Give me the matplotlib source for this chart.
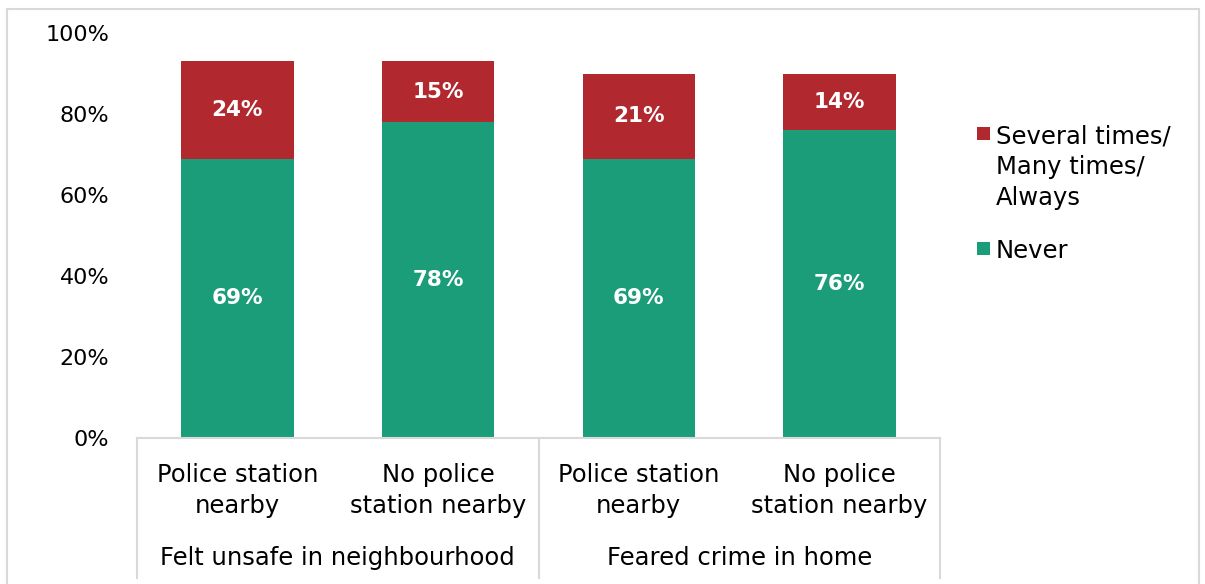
import matplotlib
matplotlib.use("Agg")
import matplotlib.pyplot as plt
from matplotlib.patches import Rectangle
import matplotlib.transforms as mtransforms

plt.rcParams['font.family'] = ['DejaVu Sans']

categories = ["Police station\nnearby", "No police\nstation nearby",
              "Police station\nnearby", "No police\nstation nearby"]
groups = ["Felt unsafe in neighbourhood", "Feared crime in home"]
never = [69, 78, 69, 76]
several = [24, 15, 21, 14]
series_names = ["Never", "Several times/\nMany times/\nAlways"]
yticks = [0, 20, 40, 60, 80, 100]

green = "#1C9D7A"
red = "#B1282E"
grey = "#D9D9D9"

W, H = 1205, 584
fig = plt.figure(figsize=(W / 100, H / 100), dpi=100)
ax = fig.add_axes([137 / W, 1 - 438 / H, (940 - 137) / W, (438 - 33) / H])

x = list(range(len(categories)))
b1 = ax.bar(x, never, width=0.56, color=green, label=series_names[0])
b2 = ax.bar(x, several, width=0.56, bottom=never, color=red, label=series_names[1])

for bars, vals, base in ((b1, never, [0] * 4), (b2, several, never)):
    for rect, v, b in zip(bars, vals, base):
        ax.text(rect.get_x() + rect.get_width() / 2, b + v / 2, f"{v}%",
                ha="center", va="center", color="white", fontsize=15.5,
                fontweight="bold")

ax.set_xlim(-0.5, 3.5)
ax.set_ylim(0, 100)
ax.set_yticks(yticks)
ax.set_yticklabels([f"{t}%" for t in yticks], fontsize=16)
ax.tick_params(axis="y", length=0, pad=20)
ax.set_xticks([])
for s in ("left", "right", "top"):
    ax.spines[s].set_visible(False)
ax.spines["bottom"].set_color(grey)
ax.spines["bottom"].set_linewidth(1.5)

# Two-level category labels with separators
trans = mtransforms.blended_transform_factory(ax.transData, ax.transAxes)
for xi, lab in zip(x, categories):
    ax.text(xi, -0.13, lab, transform=trans, ha="center", va="center",
            fontsize=17.5, linespacing=1.35)
for gi, g in enumerate(groups):
    ax.text(gi * 2 + 0.5, -0.296, g, transform=trans, ha="center",
            va="center", fontsize=17.5)
for sx in (-0.5, 1.5, 3.5):
    ax.plot([sx, sx], [0, -0.345], transform=trans, color=grey, lw=1.5,
            clip_on=False)

# Legend, red series first; marker aligned with first text line
legend_items = [(series_names[1], red, 133), (series_names[0], green, 248)]
for name, col, ypx in legend_items:
    fig.add_artist(Rectangle((977 / W, 1 - (ypx + 7) / H), 13 / W, 13 / H,
                             transform=fig.transFigure, color=col, lw=0))
    fig.text(996 / W, 1 - (ypx - 9) / H, name, ha="left", va="top",
             fontsize=17.5, linespacing=1.38)

# Chart border
fig.add_artist(Rectangle((7 / W, -0.01), (1199 - 7) / W, 1.01 - 9 / H,
                         transform=fig.transFigure, fill=False,
                         edgecolor=grey, lw=1.5))

fig.savefig("out.png", dpi=100)
